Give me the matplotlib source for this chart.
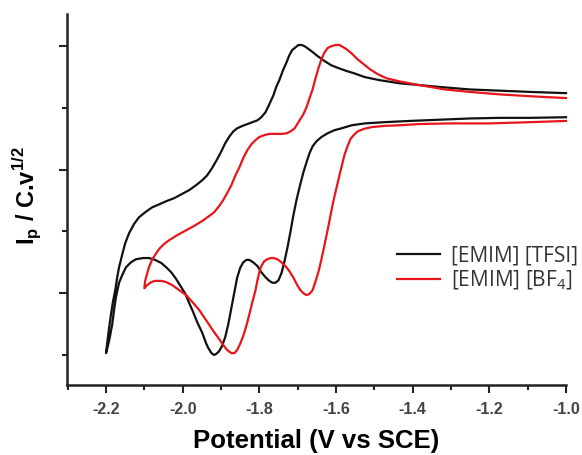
import matplotlib
matplotlib.use('Agg')
import matplotlib.pyplot as plt
from matplotlib.ticker import FixedLocator

plt.rcParams['mathtext.fontset'] = 'custom'
plt.rcParams['mathtext.rm'] = 'Open Sans'
plt.rcParams['mathtext.bf'] = 'Liberation Sans:bold'

# [EMIM] [TFSI]: lower branch (right -> left), then upper branch (left -> right)
tfsi_v = [-1.000, -1.094, -1.173, -1.251, -1.329, -1.408, -1.473, -1.525, -1.559, -1.586,
          -1.604, -1.622, -1.638, -1.651, -1.661, -1.669, -1.677, -1.685, -1.695, -1.703,
          -1.711, -1.719, -1.727, -1.735, -1.742, -1.750, -1.758, -1.766, -1.774, -1.784,
          -1.795, -1.805, -1.816, -1.826, -1.834, -1.842, -1.850, -1.858, -1.865, -1.873,
          -1.881, -1.889, -1.897, -1.905, -1.912, -1.918, -1.925, -1.933, -1.939, -1.949,
          -1.962, -1.973, -1.983, -1.993, -2.004, -2.017, -2.030, -2.043, -2.056, -2.072,
          -2.088, -2.103, -2.122, -2.135, -2.148, -2.158, -2.166, -2.174, -2.179, -2.184,
          -2.190, -2.195, -2.200,
          -2.197, -2.192, -2.187, -2.182, -2.176, -2.171, -2.166, -2.158, -2.150, -2.140,
          -2.127, -2.114, -2.098, -2.080, -2.061, -2.043, -2.022, -2.001, -1.983, -1.965,
          -1.949, -1.936, -1.923, -1.910, -1.899, -1.889, -1.878, -1.868, -1.858, -1.844,
          -1.831, -1.818, -1.805, -1.795, -1.784, -1.774, -1.763, -1.756, -1.748, -1.737,
          -1.729, -1.722, -1.714, -1.706, -1.698, -1.690, -1.682, -1.675, -1.664, -1.648,
          -1.630, -1.612, -1.591, -1.573, -1.552, -1.525, -1.486, -1.434, -1.382, -1.329,
          -1.251, -1.173, -1.094, -1.000]
tfsi_i = [3.85, 3.84, 3.84, 3.83, 3.81, 3.79, 3.77, 3.75, 3.72, 3.67,
          3.64, 3.59, 3.53, 3.46, 3.38, 3.27, 3.12, 2.96, 2.72, 2.51,
          2.27, 1.99, 1.73, 1.50, 1.33, 1.21, 1.17, 1.17, 1.20, 1.26,
          1.34, 1.44, 1.50, 1.54, 1.54, 1.50, 1.41, 1.25, 1.02, 0.76,
          0.50, 0.29, 0.15, 0.06, 0.02, 0.00, 0.03, 0.11, 0.19, 0.36,
          0.53, 0.70, 0.84, 0.99, 1.10, 1.23, 1.34, 1.42, 1.49, 1.54,
          1.57, 1.57, 1.55, 1.50, 1.42, 1.29, 1.17, 0.94, 0.73, 0.49,
          0.29, 0.15, 0.03,
          0.19, 0.44, 0.66, 0.86, 1.05, 1.25, 1.42, 1.62, 1.81, 1.97,
          2.12, 2.23, 2.31, 2.39, 2.44, 2.49, 2.54, 2.61, 2.67, 2.75,
          2.83, 2.91, 3.03, 3.17, 3.30, 3.43, 3.54, 3.62, 3.67, 3.71,
          3.74, 3.77, 3.80, 3.85, 3.93, 4.06, 4.21, 4.34, 4.45, 4.63,
          4.74, 4.85, 4.94, 4.98, 5.02, 5.02, 5.00, 4.97, 4.92, 4.84,
          4.76, 4.69, 4.64, 4.60, 4.56, 4.50, 4.45, 4.40, 4.37, 4.34,
          4.30, 4.28, 4.26, 4.24]

# [EMIM] [BF4]: lower branch (right -> left), then upper branch (left -> right)
bf4_v = [-1.000, -1.094, -1.199, -1.303, -1.382, -1.434, -1.473, -1.507, -1.528, -1.544,
         -1.554, -1.562, -1.570, -1.578, -1.583, -1.591, -1.599, -1.607, -1.614, -1.622,
         -1.630, -1.638, -1.646, -1.654, -1.661, -1.669, -1.677, -1.685, -1.693, -1.701,
         -1.711, -1.722, -1.732, -1.742, -1.753, -1.763, -1.771, -1.779, -1.787, -1.795,
         -1.800, -1.805, -1.810, -1.818, -1.826, -1.834, -1.842, -1.850, -1.858, -1.865,
         -1.873, -1.884, -1.894, -1.905, -1.918, -1.931, -1.944, -1.957, -1.975, -1.991,
         -2.009, -2.027, -2.043, -2.056, -2.072, -2.082, -2.093, -2.100,
         -2.098, -2.093, -2.088, -2.080, -2.072, -2.061, -2.048, -2.035, -2.017, -1.991,
         -1.970, -1.949, -1.931, -1.918, -1.905, -1.894, -1.884, -1.873, -1.863, -1.852,
         -1.842, -1.831, -1.821, -1.810, -1.800, -1.787, -1.774, -1.758, -1.742, -1.729,
         -1.719, -1.708, -1.701, -1.693, -1.685, -1.677, -1.669, -1.661, -1.654, -1.646,
         -1.638, -1.630, -1.622, -1.612, -1.601, -1.591, -1.580, -1.570, -1.557, -1.544,
         -1.528, -1.512, -1.492, -1.468, -1.434, -1.382, -1.316, -1.251, -1.173, -1.094,
         -1.000]
bf4_i = [3.79, 3.77, 3.75, 3.75, 3.74, 3.72, 3.71, 3.69, 3.66, 3.62,
         3.56, 3.50, 3.38, 3.24, 3.11, 2.91, 2.70, 2.49, 2.27, 2.02,
         1.78, 1.55, 1.34, 1.18, 1.05, 0.99, 0.97, 1.00, 1.05, 1.13,
         1.25, 1.36, 1.44, 1.50, 1.55, 1.57, 1.57, 1.55, 1.52, 1.44,
         1.34, 1.21, 1.05, 0.86, 0.66, 0.47, 0.31, 0.18, 0.08, 0.03,
         0.03, 0.08, 0.16, 0.26, 0.37, 0.49, 0.61, 0.73, 0.86, 0.97,
         1.05, 1.13, 1.18, 1.20, 1.20, 1.18, 1.13, 1.08,
         1.20, 1.31, 1.42, 1.54, 1.62, 1.72, 1.80, 1.86, 1.93, 2.02,
         2.09, 2.17, 2.25, 2.31, 2.41, 2.51, 2.62, 2.75, 2.90, 3.04,
         3.19, 3.32, 3.41, 3.48, 3.53, 3.56, 3.58, 3.58, 3.58, 3.59,
         3.62, 3.67, 3.74, 3.82, 3.90, 4.01, 4.16, 4.30, 4.47, 4.64,
         4.79, 4.90, 4.97, 5.00, 5.02, 5.02, 4.98, 4.94, 4.87, 4.79,
         4.71, 4.63, 4.55, 4.48, 4.43, 4.37, 4.30, 4.26, 4.22, 4.19,
         4.16]

labels = ['[EMIM] [TFSI]', '[EMIM] [BF$_4$]']
colors = ['#111111', '#e8151b']

xt = [-2.2, -2.0, -1.8, -1.6, -1.4, -1.2, -1.0]
xt_minor = [-2.3, -2.1, -1.9, -1.7, -1.5, -1.3, -1.1]

fig = plt.figure(figsize=(5.82, 4.55), dpi=100)
ax = fig.add_axes([0.115, 0.154, 0.8575, 0.815])

ax.plot(tfsi_v, tfsi_i, color=colors[0], lw=1.6, label=labels[0], clip_on=False,
        solid_joinstyle='round')
ax.plot(bf4_v, bf4_i, color=colors[1], lw=1.6, label=labels[1], clip_on=False,
        solid_joinstyle='round')

ax.set_xlim(-2.302, -1.0)
ax.set_ylim(-0.485, 5.52)

for s in ['top', 'right']:
    ax.spines[s].set_visible(False)
for s in ['left', 'bottom']:
    ax.spines[s].set_linewidth(1.8)
    ax.spines[s].set_color('#222222')

ax.xaxis.set_major_locator(FixedLocator(xt))
ax.xaxis.set_minor_locator(FixedLocator(xt_minor))
ax.set_xticklabels(['%.1f' % t for t in xt], fontweight='bold', fontsize=11.5,
                   color='#444444', family='Liberation Sans')
ax.yaxis.set_major_locator(FixedLocator([1, 3, 5]))
ax.yaxis.set_minor_locator(FixedLocator([0, 2, 4]))
ax.set_yticklabels([])
ax.tick_params(which='major', length=6, width=1.5, color='#222222', pad=6)
ax.tick_params(which='minor', length=3.5, width=1.5, color='#222222')

ax.set_xlabel('Potential (V vs SCE)', fontsize=18.5, fontweight='bold',
              family='Liberation Sans')
ax.xaxis.set_label_coords(0.5, -0.118)
ax.set_ylabel(r'I$_\mathbf{p}$ / C.v$^\mathbf{1/2}$', fontsize=17, fontweight='bold',
              family='Liberation Sans')
ax.yaxis.set_label_coords(-0.045, 0.51)

fig.legend(*ax.get_legend_handles_labels(), frameon=False, loc='center left',
           bbox_to_anchor=(0.682, 0.41), prop={'family': 'Open Sans', 'size': 15},
           handlelength=2.05, handletextpad=0.55, labelspacing=0.1, borderpad=0,
           borderaxespad=0, labelcolor='#333333')

fig.savefig('out.png', dpi=100)
